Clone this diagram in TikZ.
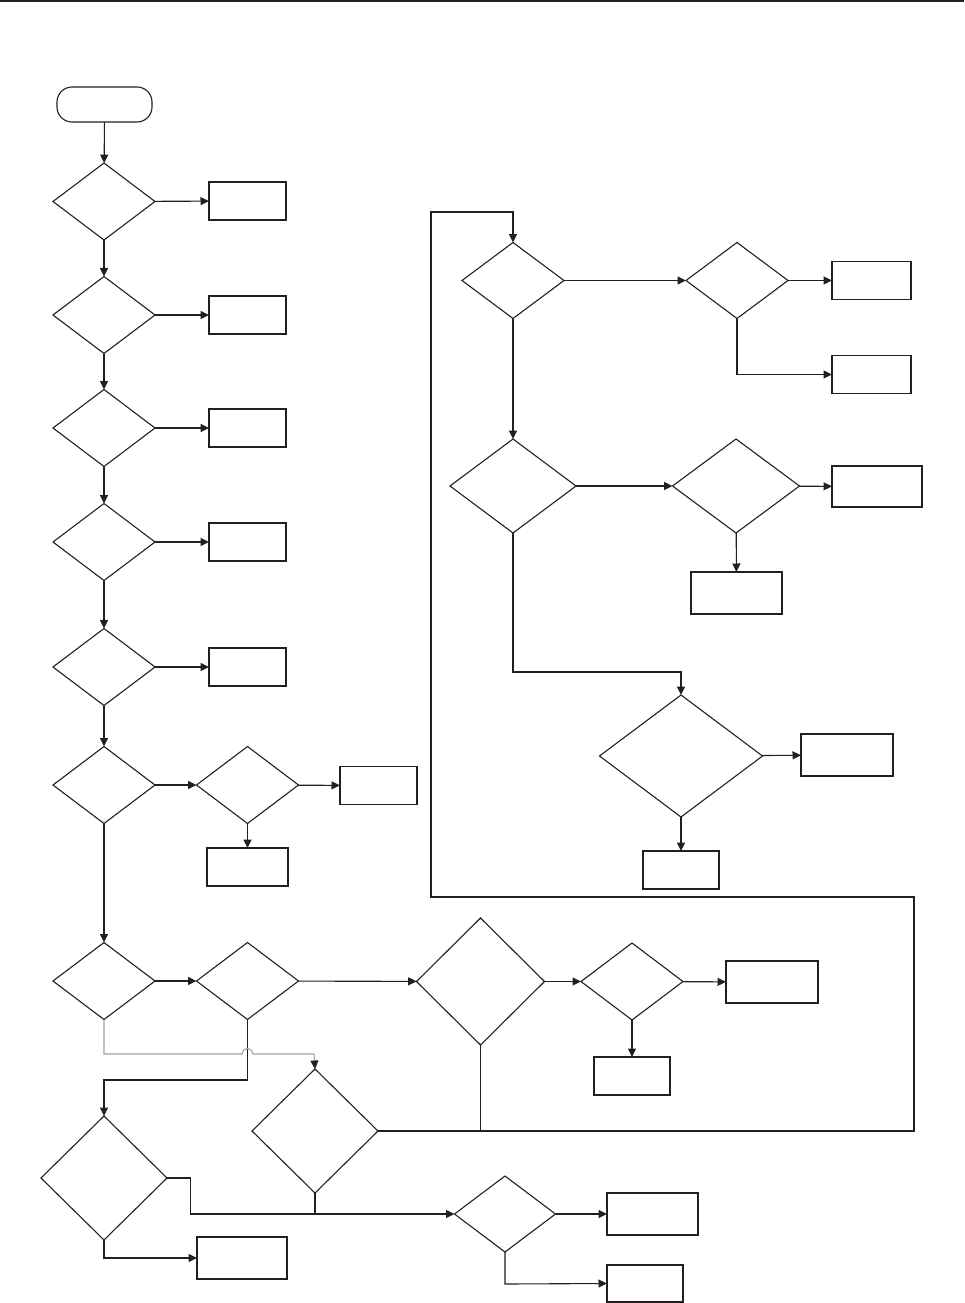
\documentclass[tikz,border=0pt]{standalone}
\usetikzlibrary{shapes.geometric,arrows.meta}
\definecolor{ink}{HTML}{231F20}
\definecolor{lgrey}{HTML}{A0A0A0}
\begin{document}
\begin{tikzpicture}[x=1pt,y=-1pt,
  ln/.style={draw=ink, line width=1.1pt},
  arr/.style={ln, -{Triangle[length=8.5pt,width=8pt]}},
  dia/.style 2 args={diamond, draw=ink, line width=1.1pt, inner sep=0pt, outer sep=0pt, minimum width=#1pt, minimum height=#2pt},
  box/.style 2 args={rectangle, draw=ink, line width=1.2pt, inner sep=0pt, outer sep=0pt, minimum width=#1pt, minimum height=#2pt},
  term/.style={rectangle, rounded corners=15pt, draw=ink, line width=1.1pt, inner sep=0pt, outer sep=0pt, minimum width=95pt, minimum height=35pt}]
\useasboundingbox (0,0) rectangle (964,1303);
\fill[ink] (0,0) rectangle (964,2.5);
% start
\node[term] (st) at (104.5,104.5) {};
% left column
\node[dia={102}{77}] (d1) at (104,201.5) {};
\node[dia={102}{77}] (d2) at (104,315) {};
\node[dia={102}{77}] (d3) at (104,428) {};
\node[dia={102}{77}] (d4) at (104,542) {};
\node[dia={102}{77}] (d5) at (104,667) {};
\node[dia={102}{77}] (d6) at (104,785) {};
\node[dia={102}{77}] (d6b) at (247.5,785) {};
\node[dia={102}{77}] (d7) at (104,981) {};
\node[dia={102}{77}] (d7b) at (247.5,981) {};
\node[dia={128}{127}] (d8) at (480.5,981.5) {};
\node[dia={102}{77}] (d8b) at (632,981.5) {};
\node[dia={126}{124}] (d9) at (315,1131) {};
\node[dia={126}{124}] (d10) at (104,1178) {};
\node[dia={101}{76}] (d11) at (505,1214) {};
% right frame column
\node[dia={102}{76}] (r1) at (513,280.5) {};
\node[dia={102}{76}] (r1b) at (737,280.5) {};
\node[dia={126}{94}] (r2) at (513,486) {};
\node[dia={127}{94}] (r2b) at (736,486) {};
\node[dia={163}{122}] (r3) at (681,756) {};
% boxes
\node[box={77}{38}] (b1) at (247.5,201) {};
\node[box={77}{38}] (b2) at (247.5,315) {};
\node[box={77}{38}] (b3) at (247.5,428) {};
\node[box={77}{38}] (b4) at (247.5,542) {};
\node[box={77}{38}] (b5) at (247.5,667) {};
\node[box={77}{38}] (b6r) at (378.5,785.5) {};
\node[box={81}{38}] (b6d) at (247.5,867) {};
\node[box={79}{38}] (r1r) at (871.5,280.5) {};
\node[box={79}{38}] (r1d) at (871.5,374.5) {};
\node[box={90}{41}] (r2r) at (877,486.5) {};
\node[box={91}{42}] (r2d) at (736.5,593) {};
\node[box={92}{42}] (r3r) at (847,755) {};
\node[box={76}{38}] (r3d) at (681,870) {};
\node[box={92}{42}] (d8r) at (772,982) {};
\node[box={76}{38}] (d8d) at (632,1076) {};
\node[box={90}{42}] (d10d) at (242,1258) {};
\node[box={91}{42}] (d11r) at (652.5,1214) {};
\node[box={76}{37}] (d11d) at (645,1283.5) {};
% helper coordinates
\coordinate (g1) at (104,1054);
\coordinate (g2) at (242,1054);
\coordinate (g3) at (314,1054);
\coordinate (k1) at (247.5,1080);
\coordinate (k2) at (104,1080);
\coordinate (f1) at (914,1131);
\coordinate (f2) at (914,897);
\coordinate (f3) at (431,897);
\coordinate (f4) at (431,212);
\coordinate (f5) at (513,212);
\coordinate (j1) at (480.5,1131);
\coordinate (m1) at (190.7,1178);
\coordinate (m2) at (190.7,1214);
\coordinate (j2) at (315,1214);
\coordinate (n1) at (104,1258);
\coordinate (n2) at (505,1284);
\coordinate (p1) at (737,374.5);
\coordinate (q1) at (513,672);
\coordinate (q2) at (681,672);
% connectors left column
\draw[arr] (st) -- (d1);
\draw[arr] (d1) -- (d2);
\draw[arr] (d2) -- (d3);
\draw[arr] (d3) -- (d4);
\draw[arr] (d4) -- (d5);
\draw[arr] (d5) -- (d6);
\draw[arr] (d6) -- (d7);
\draw[arr] (d1) -- (b1);
\draw[arr] (d2) -- (b2);
\draw[arr] (d3) -- (b3);
\draw[arr] (d4) -- (b4);
\draw[arr] (d5) -- (b5);
\draw[arr] (d6) -- (d6b);
\draw[arr] (d6b) -- (b6r);
\draw[arr] (d6b) -- (b6d);
% bottom row
\draw[arr] (d7) -- (d7b);
\draw[arr] (d7b) -- (d8);
\draw[arr] (d8) -- (d8b);
\draw[arr] (d8b) -- (d8r);
\draw[arr] (d8b) -- (d8d);
\draw[arr] (d7b.south) -- (k1) -- (k2) -- (d10.north);
\draw[draw=lgrey, line width=1.1pt, -{Triangle[length=8.5pt,width=8pt,color=ink]}]
  (d7.south) -- (g1) -- (g2) arc[start angle=180, end angle=0, radius=5.5pt] -- (g3) -- (d9.north);
\draw[arr] (d9.east) -- (f1) -- (f2) -- (f3) -- (f4) -- (f5) -- (r1.north);
\draw[ln] (d8.south) -- (j1);
\draw[arr] (d10.east) -- (m1) -- (m2) -- (d11.west);
\draw[ln] (d9.south) -- (j2);
\draw[arr] (d10.south) -- (n1) -- (d10d.west);
\draw[arr] (d11) -- (d11r);
\draw[arr] (d11.south) -- (n2) -- (d11d.west);
% right frame column
\draw[arr] (r1) -- (r1b);
\draw[arr] (r1b) -- (r1r);
\draw[arr] (r1b.south) -- (p1) -- (r1d.west);
\draw[arr] (r1) -- (r2);
\draw[arr] (r2) -- (r2b);
\draw[arr] (r2b) -- (r2r);
\draw[arr] (r2b) -- (r2d);
\draw[arr] (r2.south) -- (q1) -- (q2) -- (r3.north);
\draw[arr] (r3) -- (r3r);
\draw[arr] (r3) -- (r3d);
\end{tikzpicture}
\end{document}
